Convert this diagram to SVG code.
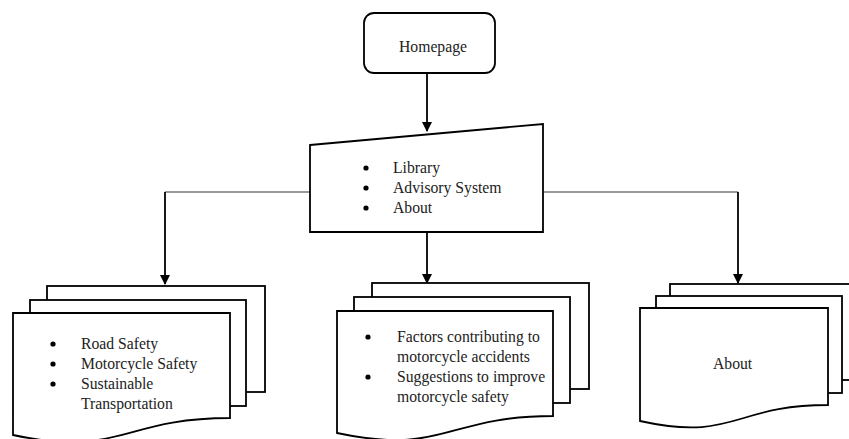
<svg xmlns="http://www.w3.org/2000/svg" width="849" height="439" viewBox="0 0 849 439">
<defs>
<style>
.shape{fill:#fff;stroke:#000;stroke-width:1.8;stroke-linejoin:miter}
.t{font-family:"Liberation Serif","Times New Roman",serif;font-size:15.7px;fill:#222}
.h{fill:none;stroke:#777;stroke-width:1.5}
.v{fill:none;stroke:#000;stroke-width:1.8}
.dot{fill:#000}
</style>
<marker id="arr" markerWidth="10" markerHeight="10" refX="9" refY="5" orient="auto" markerUnits="userSpaceOnUse">
<path d="M0,0 L10,5 L0,10 Z" fill="#000"/>
</marker>
</defs>
<rect width="849" height="439" fill="#fff"/>

<g id="connectors">
<path class="v" d="M427,73 V131" marker-end="url(#arr)"/>
<path class="h" d="M310,192 H165"/>
<path class="v" d="M165,192 V284" marker-end="url(#arr)"/>
<path class="v" d="M427,232 V283" marker-end="url(#arr)"/>
<path class="h" d="M543,192 H738"/>
<path class="v" d="M738,192 V283" marker-end="url(#arr)"/>
</g>

<g id="homepage">
<rect class="shape" x="364" y="13" width="131" height="60" rx="10" ry="10"/>
<text class="t" x="399" y="52">Homepage</text>
</g>

<g id="menu">
<path class="shape" d="M310,145 L543,124 L543,232 L310,232 Z"/>
<circle class="dot" cx="366" cy="168" r="2.6"/>
<circle class="dot" cx="366" cy="188" r="2.6"/>
<circle class="dot" cx="366" cy="208" r="2.6"/>
<text class="t" x="393" y="173">Library</text>
<text class="t" x="393" y="193">Advisory System</text>
<text class="t" x="393" y="213">About</text>
</g>

<g id="library">
<rect class="shape" x="47" y="286" width="218" height="106"/>
<rect class="shape" x="30" y="300" width="216" height="106"/>
<path class="shape" d="M13,313 H230 V418 C121,418 121,458 13,435 Z"/>
<circle class="dot" cx="53" cy="344" r="2.6"/>
<circle class="dot" cx="53" cy="364" r="2.6"/>
<circle class="dot" cx="53" cy="384" r="2.6"/>
<text class="t" x="81" y="349">Road Safety</text>
<text class="t" x="81" y="369">Motorcycle Safety</text>
<text class="t" x="81" y="389">Sustainable</text>
<text class="t" x="81" y="409">Transportation</text>
</g>

<g id="advisory">
<rect class="shape" x="372" y="283" width="217" height="106"/>
<rect class="shape" x="354" y="297" width="216" height="106"/>
<path class="shape" d="M337,311 H553 V416 C445,416 445,456 337,433 Z"/>
<circle class="dot" cx="368" cy="337" r="2.6"/>
<circle class="dot" cx="368" cy="377" r="2.6"/>
<text class="t" x="397" y="342">Factors contributing to</text>
<text class="t" x="397" y="362">motorcycle accidents</text>
<text class="t" x="397" y="382">Suggestions to improve</text>
<text class="t" x="397" y="402">motorcycle safety</text>
</g>

<g id="about">
<rect class="shape" x="670" y="284" width="190" height="96"/>
<rect class="shape" x="656" y="296" width="186" height="97"/>
<path class="shape" d="M640,308 H828 V405 C734,405 734,442 640,421 Z"/>
<text class="t" x="713" y="369">About</text>
</g>
</svg>
